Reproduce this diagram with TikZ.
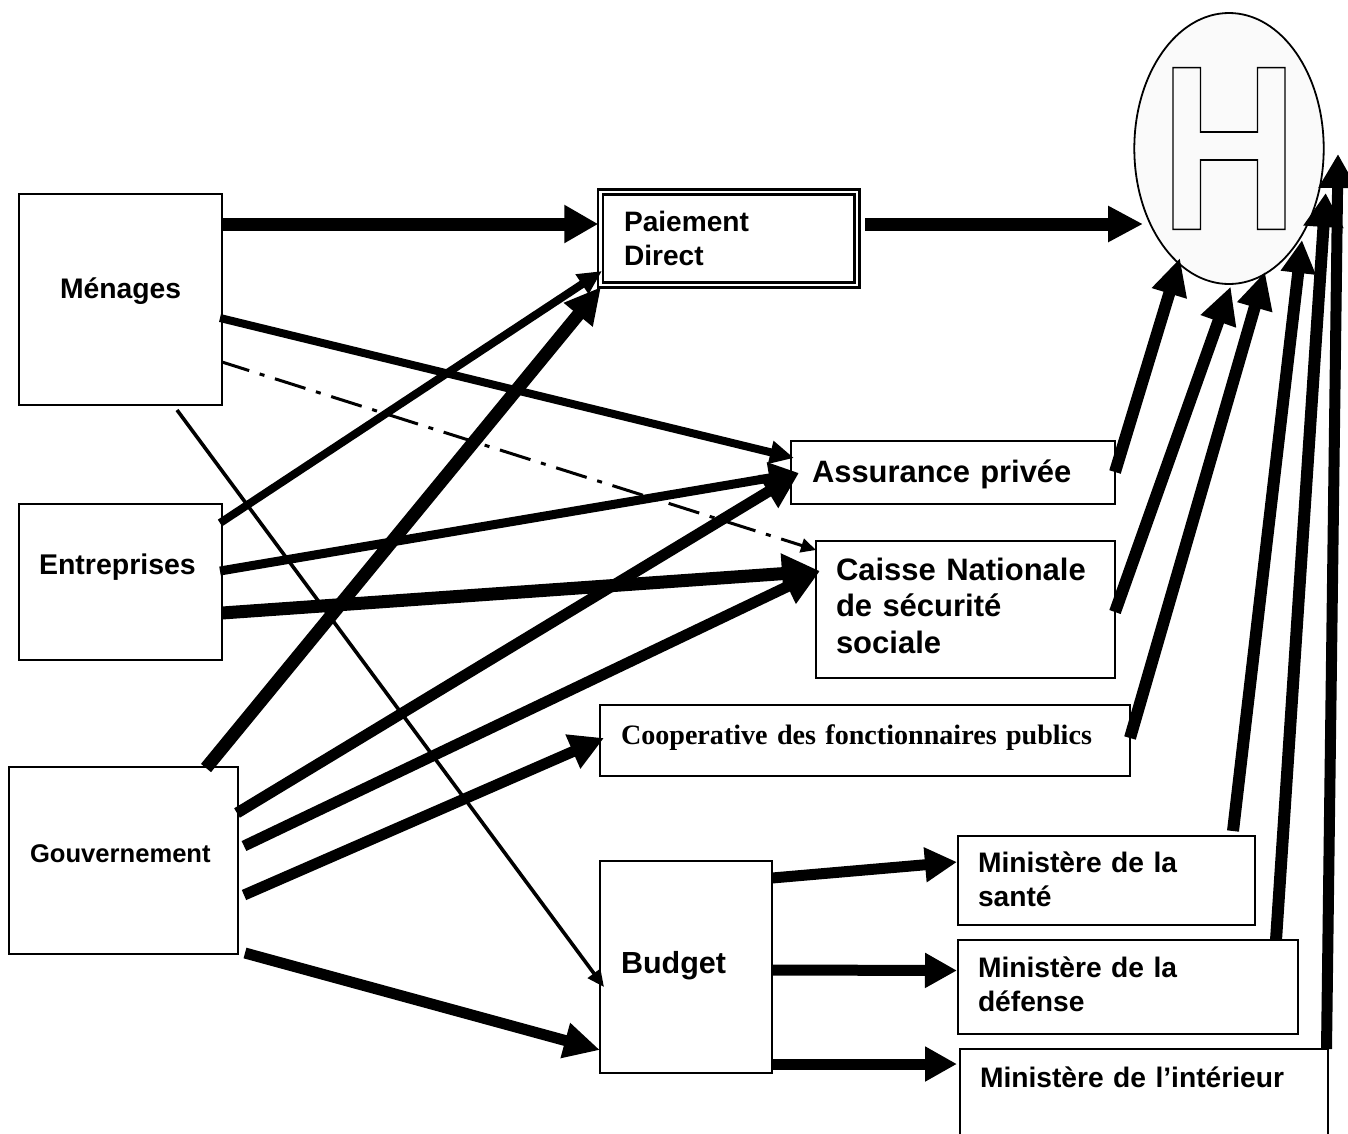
\documentclass[tikz,border=0pt]{standalone}
\usepackage{fontspec}
\setmainfont{Liberation Sans}
\newfontfamily\timesfont{Liberation Serif}
\usetikzlibrary{arrows.meta,shapes.geometric}
\newcommand{\fsz}[2]{\fontsize{#1}{#2}\bfseries\selectfont}
\tikzset{
  x=1pt,y=-1pt,
  boxnode/.style n args={4}{draw=black,line width=2.2pt,fill=white,inner ysep=0pt,outer sep=0pt,
    inner xsep=#2,text width=#1-2*#2,text height=#3,text depth=#4,align=left},
  flow/.style n args={3}{line width=#1,draw=black,line cap=butt,-{Triangle[length=#2,width=#3]}},
}
\begin{document}
\begin{tikzpicture}
\useasboundingbox (0,0) rectangle (1348,1133);
\clip (0,0) rectangle (1348,1133);
\fill[white] (0,0) rectangle (1348,1133);

\node[boxnode={203pt}{41pt}{104pt}{107pt},font=\fsz{28.3}{34}] (menages) at (120.5,299.5) {Ménages};
\node[boxnode={203pt}{20pt}{70pt}{86pt},font=\fsz{28.5}{34}] (entreprises) at (120.5,582) {Entreprises};
\node[boxnode={229pt}{21pt}{95pt}{92pt},font=\fsz{25.6}{31}] (gouv) at (123.5,860.5) {Gouvernement};
\node[boxnode={256.5pt}{23.5pt}{39pt}{54pt},double,double distance=2.6pt,line width=2.5pt,font=\fsz{28.1}{34}] (paiement) at (728.75,238.5) {Paiement\\Direct};
\node[boxnode={324pt}{21pt}{41pt}{22pt},font=\fsz{30.9}{37}] (assurance) at (953,472.5) {Assurance privée};
\node[boxnode={299pt}{20pt}{39pt}{98pt},font=\fsz{31}{36.5}] (caisse) at (965.5,609.5) {Caisse Nationale\\de sécurité\\sociale};
\node[boxnode={530pt}{21pt}{39pt}{32pt},font=\fontsize{28.1}{32}\timesfont\bfseries\selectfont] (coop) at (865,740.5) {Cooperative des fonctionnaires publics};
\node[boxnode={172pt}{21pt}{112pt}{100pt},font=\fsz{30.5}{36}] (budget) at (686,967) {Budget};
\node[boxnode={297pt}{20pt}{36pt}{53pt},font=\fsz{28.2}{34}] (sante) at (1106.5,880.5) {Ministère de la\\santé};
\node[boxnode={340pt}{20pt}{37pt}{57pt},font=\fsz{28.2}{34}] (defense) at (1128,987) {Ministère de la\\défense};
\node[boxnode={368pt}{20pt}{38pt}{53pt},font=\fsz{28.2}{34}] (interieur) at (1144,1094.5) {Ministère de l’intérieur};

\node[draw=black,line width=1.8pt,fill=black!2,shape=ellipse,inner sep=0pt,outer sep=0pt,minimum width=189.4pt,minimum height=271pt] (hopital) at (1229,148.5) {};
\node[inner sep=0pt,outer sep=0pt,xscale=0.81,transform shape] (hletter) at (1229,148.5)
  {\fontsize{235}{235}\bfseries\selectfont\special{pdf:code q 1 Tr 1.6 w}H\special{pdf:code Q}};

\draw[flow={13pt}{34pt}{36pt}] ([shift={(101.5,-75.5)}]menages.center) -- ([shift={(-130.5,-14.5)}]paiement.center);
\draw[flow={13pt}{35pt}{34pt}] ([shift={(136.5,-14.5)}]paiement.center) -- ([shift={(-86,75.5)}]hopital.center);
\draw[flow={8pt}{24pt}{22pt}] ([shift={(99.5,18.5)}]menages.center) -- ([shift={(-159,-14.5)}]assurance.center);
\draw[flow={3pt}{15pt}{14pt},dash pattern=on 32pt off 11pt on 5pt off 11pt,dash phase=3.5pt] ([shift={(101.5,62.5)}]menages.center) -- ([shift={(-149.5,-59.5)}]caisse.center);
\draw[flow={3.6pt}{17pt}{15pt}] ([shift={(56.5,110.5)}]menages.center) -- ([shift={(-82,20)}]budget.center);
\draw[flow={8pt}{24pt}{22pt}] ([shift={(99.5,-59)}]entreprises.center) -- ([shift={(-126.75,32.5)}]paiement.center);
\draw[flow={9pt}{30pt}{30pt}] ([shift={(99.5,-11)}]entreprises.center) -- ([shift={(-154,0.5)}]assurance.center);
\draw[flow={13pt}{38pt}{38pt}] ([shift={(101.5,31)}]entreprises.center) -- ([shift={(-145.5,-38.5)}]caisse.center);
\draw[flow={13pt}{36pt}{35pt}] ([shift={(82.5,-92.5)}]gouv.center) -- ([shift={(-127.75,48.5)}]paiement.center);
\draw[flow={11pt}{36pt}{36pt}] ([shift={(113.5,-47.5)}]gouv.center) -- ([shift={(-154,0.5)}]assurance.center);
\draw[flow={11pt}{36pt}{36pt}] ([shift={(120.5,-14.5)}]gouv.center) -- ([shift={(-145.5,-38.5)}]caisse.center);
\draw[flow={11pt}{34pt}{35pt}] ([shift={(120.5,34.5)}]gouv.center) -- ([shift={(-261,-2.5)}]coop.center);
\draw[flow={11pt}{36pt}{34pt}] ([shift={(121.5,92.5)}]gouv.center) -- ([shift={(-86,83)}]budget.center);
\draw[flow={11pt}{32pt}{33pt}] ([shift={(86,-89)}]budget.center) -- ([shift={(-149.5,-18.5)}]sante.center);
\draw[flow={11pt}{32pt}{33pt}] ([shift={(86,3)}]budget.center) -- ([shift={(-171,-16.5)}]defense.center);
\draw[flow={11pt}{32pt}{33pt}] ([shift={(86,97)}]budget.center) -- ([shift={(-187,-30.5)}]interieur.center);
\draw[flow={12pt}{37pt}{34pt}] ([shift={(162,-0.5)}]assurance.center) -- ([shift={(-49,109.5)}]hopital.center);
\draw[flow={12pt}{37pt}{35pt}] ([shift={(149.5,2.5)}]caisse.center) -- ([shift={(1.7,138)}]hopital.center);
\draw[flow={12pt}{37pt}{34pt}] ([shift={(265,-2.5)}]coop.center) -- ([shift={(36,123.2)}]hopital.center);
\draw[flow={12pt}{33pt}{33pt}] ([shift={(126.5,-49.5)}]sante.center) -- ([shift={(73,91.5)}]hopital.center);
\draw[flow={12pt}{34pt}{38pt}] ([shift={(148,-47)}]defense.center) -- ([shift={(96.7,44.5)}]hopital.center);
\draw[flow={11pt}{34pt}{36pt}] ([shift={(182.5,-45.5)}]interieur.center) -- ([shift={(109,5.5)}]hopital.center);
\end{tikzpicture}
\end{document}
